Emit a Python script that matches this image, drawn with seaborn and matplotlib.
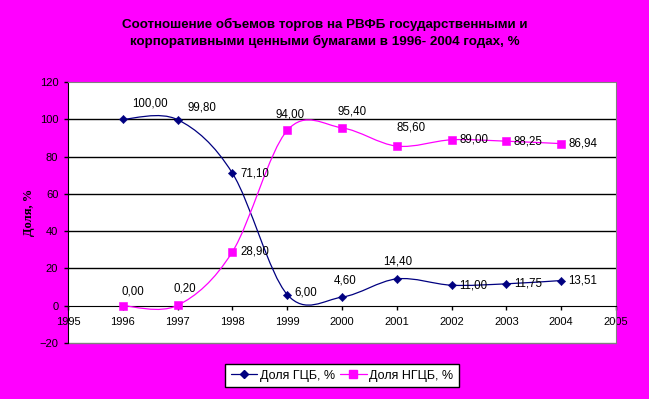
import matplotlib
matplotlib.use("Agg")
import matplotlib.pyplot as plt
import numpy as np
import seaborn as sns
from matplotlib.lines import Line2D
from matplotlib.path import Path
from matplotlib.patches import PathPatch

years = [1996, 1997, 1998, 1999, 2000, 2001, 2002, 2003, 2004]
gcb = [100.00, 99.80, 71.10, 6.00, 4.60, 14.40, 11.00, 11.75, 13.51]
ngcb = [0.00, 0.20, 28.90, 94.00, 95.40, 85.60, 89.00, 88.25, 86.94]
gcb_labels = ["100,00", "99,80", "71,10", "6,00", "4,60", "14,40", "11,00", "11,75", "13,51"]
ngcb_labels = ["0,00", "0,20", "28,90", "94,00", "95,40", "85,60", "89,00", "88,25", "86,94"]

# label centre offsets from the marker, in pixels (right, up)
gcb_off = [(27, 16), (24, 12), (22, 0), (19, 2), (3, 17), (1, 17), (22, 0), (22, 0), (21, 0)]
ngcb_off = [(10, 14), (7, 17), (22, 0), (3, 16), (10, 16), (14, 19), (22, 0), (22, 0), (22, 0)]

BG = "#FF00FF"
NAVY = "#000080"
PINK = "#FF00FF"
PX = 72 / 100  # points per pixel


def smooth_path(xs, ys):
    # Excel-like smoothed line: cubic Bezier through the points
    pts = np.column_stack([xs, ys]).astype(float)
    ext = np.vstack([pts[0], pts, pts[-1]])
    verts = [pts[0]]
    codes = [Path.MOVETO]
    for i in range(1, len(ext) - 2):
        p0, p1, p2, p3 = ext[i - 1], ext[i], ext[i + 1], ext[i + 2]
        c1 = p1 + (p2 - p0) / 6.0
        c2 = p2 - (p3 - p1) / 6.0
        verts += [c1, c2, p2]
        codes += [Path.CURVE4] * 3
    return Path(verts, codes)


sns.set_style("white")
plt.rcParams["font.family"] = ["Liberation Sans", "DejaVu Sans"]
plt.rcParams["text.color"] = "black"
plt.rcParams["axes.labelcolor"] = "black"
plt.rcParams["xtick.color"] = "black"
plt.rcParams["ytick.color"] = "black"

fig = plt.figure(figsize=(6.49, 3.99), dpi=100, facecolor=BG)
ax = fig.add_axes([68 / 649, 1 - 343 / 399, (616 - 68) / 649, (343 - 82) / 399])
ax.set_facecolor("white")

ax.set_xlim(1995, 2005)
ax.set_ylim(-20, 120)

for y in [20, 40, 60, 80, 100]:
    ax.axhline(y, color="black", lw=1.0, zorder=1)

ax.add_patch(PathPatch(smooth_path(years, gcb), fc="none", ec=NAVY, lw=0.9, zorder=3))
ax.add_patch(PathPatch(smooth_path(years, ngcb), fc="none", ec=PINK, lw=0.9, zorder=3))

sns.scatterplot(x=years, y=gcb, marker="D", s=18, color=NAVY, edgecolor=NAVY, ax=ax, zorder=4)
sns.scatterplot(x=years, y=ngcb, marker="s", s=26, color=PINK, edgecolor=PINK, ax=ax, zorder=4)

for xs, ys, labs, offs in [(years, gcb, gcb_labels, gcb_off), (years, ngcb, ngcb_labels, ngcb_off)]:
    for x, y, t, (dx, dy) in zip(xs, ys, labs, offs):
        ax.annotate(t, (x, y), xytext=(dx * PX, dy * PX), textcoords="offset points",
                    ha="center", va="center", fontsize=8.3, color="black", zorder=5)

ax.set_xticks(range(1995, 2006))
ax.set_yticks(range(-20, 121, 20))
ax.tick_params(axis="both", labelsize=8, width=1, color="black", labelcolor="black",
               direction="out", left=True, bottom=True)
ax.tick_params(axis="x", length=3, pad=5)
ax.tick_params(axis="y", length=3, pad=4)
ax.spines["bottom"].set_position(("data", 0))
ax.spines["bottom"].set_color("black")
ax.spines["left"].set_color("black")
ax.spines["top"].set_color("#808080")
ax.spines["right"].set_color("#808080")
ax.axhline(-20, color="#808080", lw=1.0, clip_on=False, zorder=2)

ax.set_ylabel("Доля, %", fontsize=9, fontweight="bold", color="black",
              family=["Liberation Serif", "DejaVu Serif"], labelpad=3)

fig.text(0.5, 1 - 33 / 399,
         "Соотношение объемов торгов на РВФБ государственными и\n"
         "корпоративными ценными бумагами в 1996- 2004 годах, %",
         ha="center", va="center", fontsize=9.6, fontweight="bold", linespacing=1.35,
         color="black", family=["Liberation Sans Narrow", "Liberation Sans", "DejaVu Sans"])

handles = [
    Line2D([], [], color=NAVY, marker="D", markersize=4, lw=0.9),
    Line2D([], [], color=PINK, marker="s", markersize=5.5, lw=0.9),
]
leg = fig.legend(handles, ["Доля ГЦБ, %", "Доля НГЦБ, %"], loc="center",
                 bbox_to_anchor=(342 / 649, 1 - 375.5 / 399), ncol=2, fontsize=9,
                 frameon=True, fancybox=False, edgecolor="black", framealpha=1,
                 handlelength=2.15, handletextpad=0.2, columnspacing=0.4,
                 borderpad=0.45, borderaxespad=0)
for txt in leg.get_texts():
    txt.set_color("black")

fig.savefig("out.png", dpi=100, facecolor=BG)
